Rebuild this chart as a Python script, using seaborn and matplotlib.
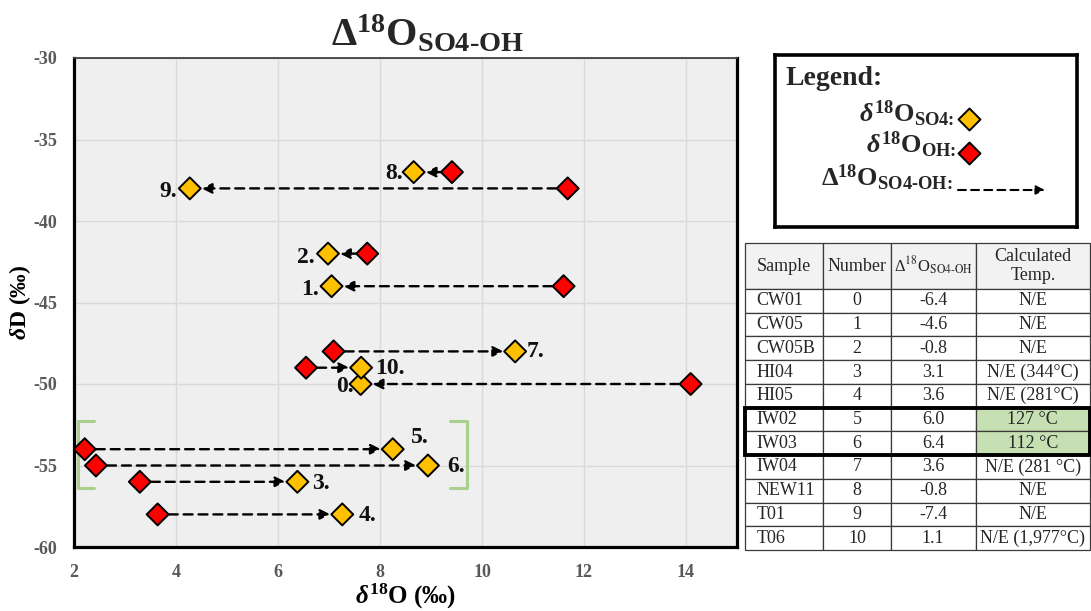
import matplotlib
matplotlib.use("Agg")
import matplotlib.pyplot as plt
import numpy as np
import pandas as pd
import seaborn as sns
from matplotlib.patches import Rectangle
from matplotlib.ticker import MultipleLocator

# ---------------- data ----------------
samples = ['CW01', 'CW05', 'CW05B', 'HI04', 'HI05', 'IW02', 'IW03', 'IW04', 'NEW11', 'T01', 'T06']
numbers = [0, 1, 2, 3, 4, 5, 6, 7, 8, 9, 10]
delta_so4_oh = ['-6.4', '-4.6', '-0.8', '3.1', '3.6', '6.0', '6.4', '3.6', '-0.8', '-7.4', '1.1']
calc_temp = ['N/E', 'N/E', 'N/E', 'N/E (344°C)', 'N/E (281°C)', '127 °C', '112 °C',
             'N/E (281 °C)', 'N/E', 'N/E', 'N/E (1,977°C)']
dD = [-50, -44, -42, -56, -58, -54, -55, -48, -37, -38, -49]
d18O_SO4 = [7.62, 7.05, 6.98, 6.38, 7.26, 8.25, 8.94, 10.65, 8.66, 4.27, 7.63]
d18O_OH = [14.09, 11.60, 7.75, 3.29, 3.64, 2.21, 2.43, 7.09, 9.41, 11.68, 6.55]
highlight = [5, 6]          # IW02, IW03 (bracketed, green)
x_ticks = [2, 4, 6, 8, 10, 12, 14]
y_ticks = [-30, -35, -40, -45, -50, -55, -60]

SO4_COLOR = '#FFC000'
OH_COLOR = '#FF0000'
GREEN = '#A9D18E'
GREEN_CELL = '#C6E0B4'

# label placement (pixel offsets from the SO4 marker, horizontal alignment)
label_pos = {0: (-7, -2, 'right'), 1: (-13, -3, 'right'), 2: (-13, -4, 'right'),
             3: (15, -2, 'left'), 4: (16, -1, 'left'), 5: (18, 12, 'left'),
             6: (19, -1, 'left'), 7: (11, 0, 'left'), 8: (-11, -1, 'right'),
             9: (-13, -3, 'right'), 10: (14, -1, 'left')}

# ---------------- style ----------------
sns.set_theme(style='white')
plt.rcParams['font.family'] = ['Liberation Serif', 'DejaVu Serif']
plt.rcParams['mathtext.fontset'] = 'custom'
plt.rcParams['mathtext.rm'] = 'Liberation Serif:bold'
plt.rcParams['mathtext.bf'] = 'Liberation Serif:bold'
plt.rcParams['mathtext.it'] = 'Liberation Serif:italic:bold'
plt.rcParams['axes.unicode_minus'] = False

W, H = 1091, 611
fig = plt.figure(figsize=(W / 100, H / 100), dpi=100)
fig.patch.set_facecolor('white')

# ---------------- main axes ----------------
ax = fig.add_axes([74 / W, 1 - 547 / H, 663 / W, 489 / H])
ax.set_facecolor('#EFEFEF')

df = pd.DataFrame({
    'x': d18O_SO4 + d18O_OH,
    'y': dD + dD,
    'kind': ['SO4'] * len(dD) + ['OH'] * len(dD),
})

# arrows (dashed line with arrowhead) from OH to SO4
px2pt = 0.72
for i in range(len(dD)):
    ax.annotate('', xy=(d18O_SO4[i], dD[i]), xytext=(d18O_OH[i], dD[i]),
                arrowprops=dict(arrowstyle='-|>', linestyle=(0, (3.8, 2.5)), lw=1.7,
                                color='black', shrinkA=8, shrinkB=8.5,
                                mutation_scale=15), zorder=3)

sns.scatterplot(data=df, x='x', y='y', hue='kind',
                palette={'SO4': SO4_COLOR, 'OH': OH_COLOR},
                marker='D', s=125, edgecolor='black', linewidth=1.4,
                legend=False, ax=ax, zorder=5)

for i in range(len(dD)):
    dx, dy, ha = label_pos[numbers[i]]
    ax.annotate(f'{numbers[i]}.', xy=(d18O_SO4[i], dD[i]),
                xytext=(dx * px2pt, dy * px2pt), textcoords='offset points',
                ha=ha, va='center', fontsize=17, fontweight='bold',
                color='#111111', zorder=6)

# green brackets around IW02 / IW03
hx_oh = [d18O_OH[i] for i in highlight]
hx_so4 = [d18O_SO4[i] for i in highlight]
hy = [dD[i] for i in highlight]
top, bot = max(hy) + 1.7, min(hy) - 1.4
lx = min(hx_oh) - 0.13
rx = max(hx_so4) + 0.76
ax.plot([lx + 0.32, lx, lx, lx + 0.32], [top, top, bot, bot], color=GREEN, lw=2.2,
        solid_capstyle='round', zorder=4, clip_on=False)
ax.plot([rx - 0.32, rx, rx, rx - 0.32], [top, top, bot, bot], color=GREEN, lw=2.2,
        solid_capstyle='round', zorder=4)

ax.set_xlim(2, 15)
ax.set_ylim(-60, -30)
ax.set_xticks(x_ticks)
ax.set_yticks(y_ticks)
ax.xaxis.set_minor_locator(MultipleLocator(0.4))
ax.yaxis.set_minor_locator(MultipleLocator(1))
ax.tick_params(which='both', direction='in', length=5, width=1, color='#A6A6A6')
ax.tick_params(axis='y', which='major', pad=12, labelsize=13, labelcolor='#595959')
ax.tick_params(axis='x', which='major', pad=12, labelsize=13, labelcolor='#595959')
for lab in ax.get_xticklabels() + ax.get_yticklabels():
    lab.set_fontweight('bold')
ax.grid(True, which='major', color='#D9D9D9', lw=1)
ax.set_axisbelow(True)

for side in ['left', 'bottom', 'right']:
    ax.spines[side].set_color('black')
    ax.spines[side].set_linewidth(2.3)
ax.spines['top'].set_color('#404040')
ax.spines['top'].set_linewidth(1.3)

ax.set_xlabel(r'$\delta^{18}$O (‰)', fontsize=18, fontweight='bold', color='black')
ax.set_ylabel(r'$\delta$D (‰)', fontsize=17, fontweight='bold', color='black')
ax.xaxis.set_label_coords(0.5, -(582 - 547) / 489)
ax.yaxis.set_label_coords(-(74 - 33) / 663, 0.5)

fig.text(427 / W, 1 - 46 / H, r'Δ$^{18}$O$_{\mathrm{SO4\text{-}OH}}$', ha='center',
         va='baseline', fontsize=29, fontweight='bold')

# ---------------- legend box ----------------
lax = fig.add_axes([775 / W, 1 - 227 / H, 302 / W, 172 / H])
lax.set_xlim(0, 302)
lax.set_ylim(172, 0)
lax.set_xticks([])
lax.set_yticks([])
lax.set_facecolor('white')
for s in lax.spines.values():
    s.set_color('black')
    s.set_linewidth(2.6)
lax.text(11, 30, 'Legend:', fontsize=20, fontweight='bold', va='baseline', ha='left')
lax.text(179, 67, r'$\delta^{18}$O$_{\text{SO4:}}$', fontsize=19, fontweight='bold',
         va='baseline', ha='right')
lax.text(181, 98, r'$\delta^{18}$O$_{\text{OH:}}$', fontsize=19, fontweight='bold',
         va='baseline', ha='right')
lax.text(178, 131, r'Δ$^{18}$O$_{\text{SO4-OH:}}$', fontsize=19, fontweight='bold',
         va='baseline', ha='right')
lax.scatter([194], [64], marker='D', s=125, color=SO4_COLOR, edgecolor='black', linewidth=1.4)
lax.scatter([194], [98], marker='D', s=125, color=OH_COLOR, edgecolor='black', linewidth=1.4)
lax.annotate('', xy=(270, 135), xytext=(183, 135),
             arrowprops=dict(arrowstyle='-|>', linestyle=(0, (3.8, 2.5)), lw=1.5,
                             color='black', shrinkA=0, shrinkB=0, mutation_scale=13))

# ---------------- table ----------------
tax = fig.add_axes([745 / W, 1 - 550 / H, 345 / W, 307 / H])
tax.axis('off')
col_w = np.array([78.3, 67.4, 85.0, 114.3])
col_w = col_w / col_w.sum()
head_h, row_h = 46.0, 23.7
cell_text = [[samples[i], str(numbers[i]), delta_so4_oh[i], calc_temp[i]] for i in range(len(samples))]
col_labels = ['Sample', 'Number', r'Δ$^{18}$O$_{\mathrm{SO4\text{-}OH}}$', 'Calculated\nTemp.']
tbl = tax.table(cellText=cell_text, colLabels=col_labels, colWidths=list(col_w),
                cellLoc='center', bbox=[0, 0, 1, 1])
tbl.auto_set_font_size(False)
tbl.set_fontsize(13)
for (r, c), cell in tbl.get_celld().items():
    cell.set_height(head_h if r == 0 else row_h)
    cell.set_edgecolor('#3A3A3A')
    cell.set_linewidth(0.9)
    t = cell.get_text()
    t.set_fontfamily('Liberation Serif')
    t.set_fontweight('normal')
    t.set_math_fontfamily('stix')
    if r == 0:
        cell.set_facecolor('#F2F2F2')
        if c == 2:
            t.set_fontsize(12)
    if c == 0:
        cell._loc = 'left'
        cell.PAD = 0.15
        t.set_horizontalalignment('left')
    if r - 1 in highlight and c == 3:
        cell.set_facecolor(GREEN_CELL)

total_h = head_h + row_h * len(samples)
y_top = 1 - (head_h + row_h * min(highlight)) / total_h
y_bot = 1 - (head_h + row_h * (max(highlight) + 1)) / total_h
tax.add_patch(Rectangle((0, y_bot), 1, y_top - y_bot, fill=False, lw=2.8,
                        ec='black', transform=tax.transAxes, clip_on=False, zorder=10))

fig.savefig('out.png', dpi=100, facecolor='white')
